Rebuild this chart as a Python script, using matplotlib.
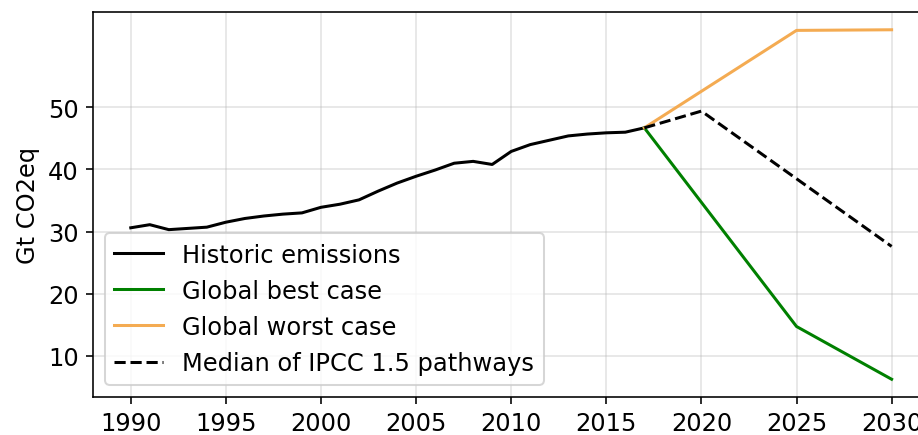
import matplotlib
matplotlib.use("Agg")
import matplotlib.pyplot as plt

# Historic global emissions (Gt CO2eq)
hist_years = list(range(1990, 2018))
hist_values = [30.6, 31.1, 30.3, 30.5, 30.7, 31.5, 32.1, 32.5, 32.8, 33.0,
               33.9, 34.4, 35.1, 36.5, 37.8, 38.9, 39.9, 41.0, 41.3, 40.8,
               42.9, 44.0, 44.7, 45.4, 45.7, 45.9, 46.0, 46.7]

# Scenario projections
best_years = [2017, 2025, 2030]
best_values = [46.7, 14.7, 6.2]

worst_years = [2017, 2025, 2030]
worst_values = [46.7, 62.4, 62.5]

ipcc_years = [2017, 2020, 2025, 2030]
ipcc_values = [46.7, 49.4, 38.5, 27.6]

y_ticks = [10, 20, 30, 40, 50]
x_ticks = [1990, 1995, 2000, 2005, 2010, 2015, 2020, 2025, 2030]

plt.rcParams["font.size"] = 12

DPI = 145
fig = plt.figure(figsize=(919 / DPI, 436 / DPI), dpi=DPI)
ax = fig.add_axes([0.1009, 0.0878, 0.9107, 0.8817])

ax.plot(hist_years, hist_values, color="black", label="Historic emissions")
ax.plot(best_years, best_values, color="green", label="Global best case")
ax.plot(worst_years, worst_values, color="#f4ab52", label="Global worst case")
ax.plot(ipcc_years, ipcc_values, color="black", linestyle="--",
        label="Median of IPCC 1.5 pathways")

ax.set_xticks(x_ticks)
ax.set_yticks(y_ticks)
ax.set_ylabel("Gt CO2eq")
ax.grid(True, alpha=0.35)
ax.legend(loc="lower left")

fig.savefig("out.png", dpi=DPI)
